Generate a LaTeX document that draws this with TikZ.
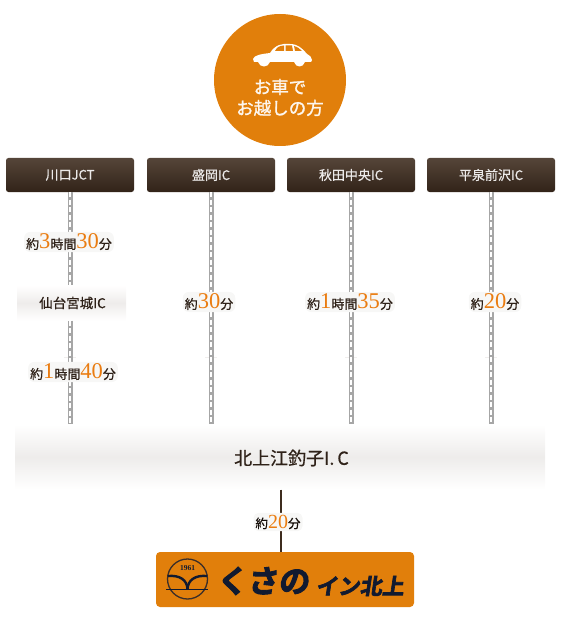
\documentclass[tikz,border=0pt]{standalone}
\usepackage{fontspec}
\setmainfont{Noto Sans CJK JP}[FakeBold=0.6]
\newfontfamily\boldf{Noto Sans CJK JP}[FakeBold=1.4]
\newfontfamily\numf{Liberation Serif}
\newfontfamily\logof{Noto Sans CJK JP Bold}[FakeBold=3]
\definecolor{orng}{HTML}{E17F0B}
\definecolor{brn}{HTML}{3E2C1E}
\definecolor{numc}{HTML}{EA7C10}
\definecolor{navy}{HTML}{111A30}
\definecolor{txtb}{HTML}{2E2118}
\newcommand{\nm}[1]{{\numf\fontsize{22.5}{22}\selectfont\color{numc}#1}}
\newcommand{\nms}[1]{{\numf\fontsize{20}{20}\selectfont\color{numc}#1}}
\pgfdeclareverticalshading{bandshade}{100bp}{
  color(0bp)=(white); color(25bp)=(white); color(50bp)=(brn!9!white); color(75bp)=(white); color(100bp)=(white)}
\tikzset{
  x=1pt,y=-1pt,
  header/.style={rounded corners=2.5pt,top color=brn!88!white,bottom color=brn!80!black,
    minimum width=128pt,minimum height=34pt,inner sep=0pt,text=white!90!brn,font=\fontsize{13}{13}\selectfont},
  roadbase/.style={line width=5pt,color=black!35},
  roaddash/.style={line width=1.5pt,color=white,dash pattern=on 5pt off 2.5pt},
  timelabel/.style={fill=white!96!brn,rounded corners=6pt,inner sep=2pt,text=txtb,font=\fontsize{13}{14}\selectfont},
  bandbox/.style={inner sep=0pt,shade,shading=bandshade},
  tick/.style={line width=1.2pt,color=brn!8!white},
}
\begin{document}
\begin{tikzpicture}
\useasboundingbox (0,0) rectangle (561,631);
% circle
\node[circle,fill=orng,minimum size=132pt,inner sep=0pt] (badge) at (280,80) {};
\node[text=white!93!orng,align=center,font=\boldf\fontsize{17.5}{21}\selectfont] (badgetext) at (280,97.5) {お車で\\お越しの方};
% car
\fill[white] (253,59) .. controls (254,55) and (262,54) .. (270,53)
  .. controls (275,45) and (282,43) .. (290,44)
  .. controls (298,44) and (303,49) .. (307,54)
  .. controls (310,56) and (312,57) .. (312,60)
  -- (311,62) -- (305,62) .. controls (303,68) and (296,68) .. (294,62)
  -- (270,62) .. controls (268,68) and (260,68) .. (258,62) -- (254,62) -- cycle;
\fill[orng] (275,51) .. controls (277,47) and (279,46) .. (284,45.5) -- (284,51) -- cycle;
\fill[orng] (285.5,45.5) -- (292,45.5) -- (293,51) -- (285.5,51) -- cycle;
\fill[orng] (294,46) .. controls (298,47) and (300,49) .. (302,51) -- (295,51) -- cycle;
% headers
\node[header] (h1) at (70,175) {川口JCT};
\node[header] (h2) at (211,175) {盛岡IC};
\node[header] (h3) at (351,175) {秋田中央IC};
\node[header] (h4) at (491,175) {平泉前沢IC};
% bands
\node[minimum width=109pt,minimum height=35pt,bandbox] (ic1) at (71.5,303) {};
\node[minimum width=530pt,minimum height=65pt,bandbox] (ic2) at (280,457) {};
% faint ticks
\foreach \x in {70,211,351,491}{\draw[tick] (\x-6,357.5) -- (\x+6,357.5);}
% roads
\foreach \s/\e/\x in {h1/ic1/70,ic1/ic2/70,h2/ic2/211,h3/ic2/351,h4/ic2/491}{
  \draw[roadbase] (\s.south -| \x,0) -- (\e.north -| \x,0);
  \draw[roaddash] (\s.south -| \x,0) -- (\e.north -| \x,0);
}
\node[font=\fontsize{13.5}{14}\selectfont,text=txtb] (ic1t) at (72.5,303) {仙台宮城IC};
\node[font=\fontsize{18}{18}\selectfont,text=txtb,inner sep=0pt] (ic2t) at (291.5,458) {北上江釣子I.\,C};
% labels
\node[timelabel] (t1) at (69,242) {約\nm{3}時間\nm{30}分};
\node[timelabel] (t2) at (73,372) {約\nm{1}時間\nm{40}分};
\node[timelabel] (t3) at (209,302) {約\nm{30}分};
\node[timelabel] (t4) at (350,302) {約\nm{1}時間\nm{35}分};
\node[timelabel] (t5) at (495,302) {約\nm{20}分};
% logo
\node[rounded corners=4pt,fill=orng,minimum width=258pt,minimum height=55pt,inner sep=0pt] (logo) at (285,579.5) {};
\draw[line width=2pt,color=brn] (ic2.south -| 281,0) -- (logo.north -| 281,0);
\node[fill=white!96!brn,rounded corners=5pt,inner sep=2pt,text=black!65!brn,font=\fontsize{12.5}{13}\selectfont] (t6) at (278,522) {約\nms{20}分};
% logo mark
\node[circle,draw=navy!80!orng,line width=1.3pt,minimum size=40pt,inner sep=0pt] (mark) at (187.5,579) {};
\draw[navy,line width=1.4pt] (166,589.5) -- (208,589.5);
\draw[navy,line width=2.4pt] (187.5,589) .. controls (187,580) and (180,575) .. (168,576);
\draw[navy,line width=2.4pt] (187.5,589) .. controls (188,580) and (195,575) .. (207,576);
\node[text=navy,font=\numf\bfseries\fontsize{7.5}{7}\selectfont,inner sep=0pt] (year) at (187.5,568.5) {1961};
\node[text=navy,inner sep=0pt,font=\logof\fontsize{31}{31}\selectfont,xslant=0.1] (logoa) at (264,581) {くさの};
\node[text=navy,inner sep=0pt,font=\logof\fontsize{22}{22}\selectfont,xslant=0.15] (logob) at (361,586) {イン北上};
\end{tikzpicture}
\end{document}
